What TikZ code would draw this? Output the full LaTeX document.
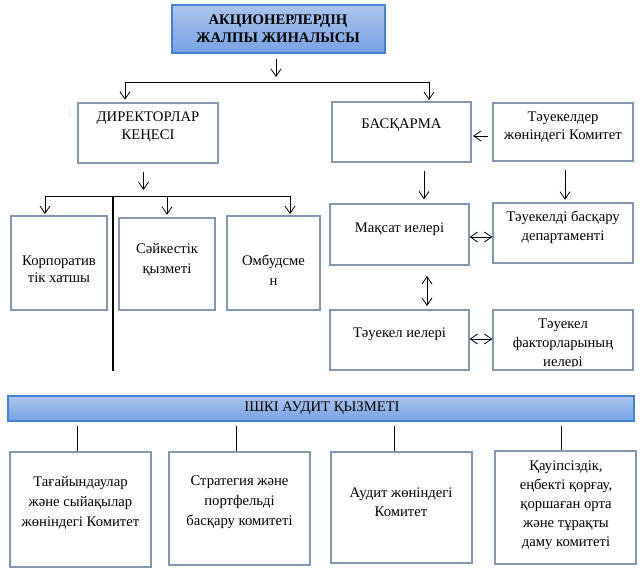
\documentclass[tikz,border=0pt]{standalone}
\usepackage{fontspec}
\setmainfont{Liberation Serif}
\usetikzlibrary{arrows.meta,fit,calc}
\definecolor{boxcol}{RGB}{132,150,176}
\definecolor{barline}{RGB}{68,130,210}
\definecolor{bartop}{RGB}{172,197,237}
\definecolor{barbot}{RGB}{120,161,228}
\begin{document}
\begin{tikzpicture}[x=0.75pt,y=-0.75pt,
  box/.style={draw=boxcol,line width=0.9pt,inner sep=0pt,fit={#1}},
  bluebox/.style={draw=barline,line width=0.9pt,inner sep=0pt,top color=bartop,bottom color=barbot,fit={#1}},
  txt/.style={align=center,inner sep=0pt,font=\fontsize{11}{#1}\selectfont},
  txt/.default=15,
  ln/.style={line width=0.65pt,black},
  arr/.style={ln,-{Straight Barb[length=5.5pt,width=7.5pt,line width=0.6pt]}},
  darr/.style={ln,{Straight Barb[length=5.5pt,width=7.5pt,line width=0.6pt]}-{Straight Barb[length=5.5pt,width=7.5pt,line width=0.6pt]}}]
\useasboundingbox (0,0) rectangle (642,574);

% boxes
\node[bluebox={(172,5) (385,53)}] (title) {};
\node[box={(78,103) (218,163)}] (dir) {};
\node[box={(332,102) (471,162)}] (bas) {};
\node[box={(493,103) (633,161)}] (komr) {};
\node[box={(11,216) (107,310)}] (korp) {};
\node[box={(119,218) (215,310)}] (saik) {};
\node[box={(227,216) (320,310)}] (omb) {};
\node[box={(330,204) (469,265)}] (maks) {};
\node[box={(493,203) (633,263)}] (tbd) {};
\node[box={(330,310) (469,370)}] (tie) {};
\node[box={(493,310) (633,370)}] (tfi) {};
\node[bluebox={(8,396) (634,421)}] (bar) {};
\node[box={(10,452) (151,567)}] (b1) {};
\node[box={(169,452) (310,565)}] (b2) {};
\node[box={(331,452) (472,563)}] (b3) {};
\node[box={(495,451) (636,564)}] (b4) {};

% texts
\node[txt=13.5,font=\fontsize{11}{13.5}\selectfont\bfseries] (t-title) at (278,29) {АКЦИОНЕРЛЕРДІҢ\\ЖАЛПЫ ЖИНАЛЫСЫ};
\node[txt=13.5,text=gray!10] (ghost) at (70,113) {I};
\node[txt=13.5] (t-dir) at (148,127) {ДИРЕКТОРЛАР\\КЕҢЕСІ};
\node[txt] (t-bas) at (401.5,125) {БАСҚАРМА};
\node[txt=13.5] (t-komr) at (563,127) {Тәуекелдер\\жөніндегі Комитет};
\node[txt=12.75] (t-korp) at (59,269.5) {Корпоратив\\тік хатшы};
\node[txt=15] (t-saik) at (167,260) {Сәйкестік\\қызметі};
\node[txt=15] (t-omb) at (273.5,270) {Омбудсме\\н};
\node[txt] (t-maks) at (399.5,229) {Мақсат иелері};
\node[txt=14] (t-tbd) at (563,227.5) {Тәуекелді басқару\\департаменті};
\node[txt] (t-tie) at (399.5,334) {Тәуекел иелері};
\begin{scope}
  \clip (494,311) rectangle (632,366);
  \node[txt=14.25] (t-tfi) at (563,344) {Тәуекел\\факторларының\\иелері};
\end{scope}
\node[txt] (t-bar) at (322,408.5) {ІШКІ АУДИТ ҚЫЗМЕТІ};
\node[txt=15] (t-b1) at (80.5,503) {Тағайындаулар\\және сыйақылар\\жөніндегі Комитет};
\node[txt=15] (t-b2) at (239.5,502) {Стратегия және\\портфельді\\басқару комитеті};
\node[txt=14] (t-b3) at (401,502.5) {Аудит жөніндегі\\Комитет};
\node[txt=14.25] (t-b4) at (566,505.5) {Қауіпсіздік,\\еңбекті қорғау,\\қоршаған орта\\және тұрақты\\даму комитеті};

% connector points
\coordinate (a0s) at (276,59);
\coordinate (a0e) at (276,77);
\coordinate (j1) at (125,82);
\coordinate (j2) at (429,82);
\coordinate (d0s) at (143.5,172);
\coordinate (d0e) at (143.5,190);
\coordinate (h1) at (45,196);
\coordinate (h2) at (290,196);
\coordinate (vtop) at (113,196);
\coordinate (vbot) at (113,371);
\coordinate (hm) at (167,196);
\coordinate (bs) at (424,171);
\coordinate (ks) at (565,170);
\coordinate (kbs) at (488,136);
\coordinate (mt) at (427,276);
\coordinate (mb) at (427,306);
\coordinate (l1) at (77,426);
\coordinate (l2) at (236.5,426);
\coordinate (l3) at (394,426);
\coordinate (l4) at (561,426);

% connectors
\draw[arr] (a0s) -- (a0e);
\draw[ln] (j1) -- (j2);
\draw[arr,shorten >=2pt] (j1) -- (j1 |- dir.north);
\draw[arr,shorten >=1pt] (j2) -- (j2 |- bas.north);
\draw[arr] (d0s) -- (d0e);
\draw[ln] (h1) -- (h2);
\draw[ln,line width=0.8pt] (vtop) -- (vbot);
\draw[arr,shorten >=1pt] (h1) -- (h1 |- korp.north);
\draw[arr,shorten >=2pt] (hm) -- (hm |- saik.north);
\draw[arr,shorten >=1pt] (h2) -- (h2 |- omb.north);
\draw[arr,shorten >=3pt] (bs) -- (bs |- maks.north);
\draw[arr,shorten >=2pt] (ks) -- (ks |- tbd.north);
\draw[arr,shorten >=1pt] (kbs) -- (kbs -| bas.east);
\draw[darr] (maks.east |- 0,237) -- (tbd.west |- 0,237);
\draw[darr] (mt) -- (mb);
\draw[darr] (tie.east |- 0,339) -- (tfi.west |- 0,339);
\draw[ln] (l1) -- (l1 |- b1.north);
\draw[ln] (l2) -- (l2 |- b2.north);
\draw[ln] (l3) -- (l3 |- b3.north);
\draw[ln] (l4) -- (l4 |- b4.north);
\end{tikzpicture}
\end{document}
